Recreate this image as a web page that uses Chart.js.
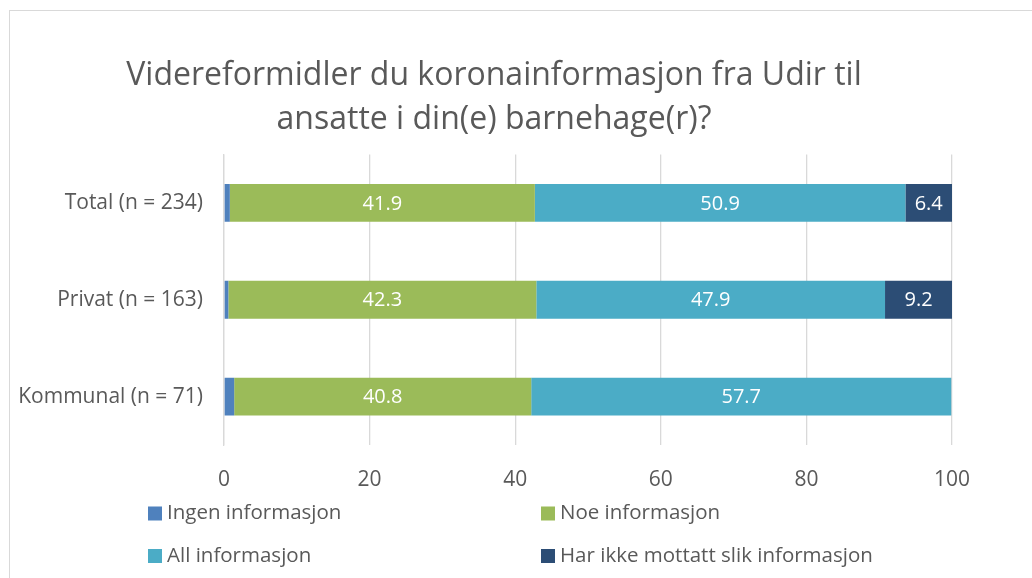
<!DOCTYPE html>
<html>
<head>
<meta charset="utf-8">
<script src="https://cdn.jsdelivr.net/npm/chart.js@4.4.1/dist/chart.umd.min.js"></script>
<style>
  html, body { margin: 0; padding: 0; background: #fff; overflow: hidden; }
  #frame { position: absolute; left: 9px; top: 10px; width: 1100px; height: 700px; border: 1px solid #d9d9d9; }
  #wrap { position: absolute; left: 0; top: 0; width: 1032px; height: 578px; }
</style>
</head>
<body>
<div id="frame"></div>
<div id="wrap"><canvas id="chart" width="1032" height="578"></canvas></div>
<script>
// data
const categories = ['Total (n = 234)', 'Privat (n = 163)', 'Kommunal (n = 71)'];
const seriesNames = ['Ingen informasjon', 'Noe informasjon', 'All informasjon', 'Har ikke mottatt slik informasjon'];
const ingenInfo = [0.8, 0.6, 1.4];
const noeInfo = [41.9, 42.3, 40.8];
const allInfo = [50.9, 47.9, 57.7];
const harIkke = [6.4, 9.2, 0];
const xTicks = [0, 20, 40, 60, 80, 100];
const seriesColors = ['#4f81bd', '#9bbb59', '#4bacc6', '#2c4d75'];
const titleLines = ['Videreformidler du koronainformasjon fra Udir til', 'ansatte i din(e) barnehage(r)?'];

const FONT = "'Open Sans', sans-serif";
const TEXT = '#595959';

// title centred a bit left of the canvas middle, as in the original
const offsetTitle = {
    id: 'offsetTitle',
    afterDraw(chart) {
        const ctx = chart.ctx;
        const cx = (chart.width - 44) / 2;
        ctx.save();
        ctx.font = '32px ' + FONT;
        ctx.fillStyle = TEXT;
        ctx.textAlign = 'center';
        ctx.textBaseline = 'middle';
        titleLines.forEach((line, i) => ctx.fillText(line, cx, 76 + i * 44));
        ctx.restore();
    }
};

// white value labels inside the segments (not for the first series)
const valueLabels = {
    id: 'valueLabels',
    afterDatasetsDraw(chart) {
        const ctx = chart.ctx;
        ctx.save();
        ctx.font = '20px ' + FONT;
        ctx.fillStyle = '#ffffff';
        ctx.textAlign = 'center';
        ctx.textBaseline = 'middle';
        chart.data.datasets.forEach((ds, i) => {
            if (i === 0) return;
            chart.getDatasetMeta(i).data.forEach((bar, j) => {
                const v = ds.data[j];
                if (!v) return;
                const p = bar.getCenterPoint();
                ctx.fillText(v.toFixed(1), p.x, p.y + 1);
            });
        });
        ctx.restore();
    }
};

// two-column legend like the original
const gridLegend = {
    id: 'gridLegend',
    afterDraw(chart) {
        const ctx = chart.ctx;
        const area = chart.chartArea;
        const cols = [area.left - 76, area.left + 317];
        const rows = [area.bottom + 68.5, area.bottom + 111];
        ctx.save();
        ctx.font = '20.5px ' + FONT;
        ctx.textBaseline = 'middle';
        ctx.textAlign = 'left';
        chart.data.datasets.forEach((ds, i) => {
            const x = cols[i % 2];
            const y = rows[Math.floor(i / 2)];
            ctx.fillStyle = ds.backgroundColor;
            ctx.fillRect(x, y - 7, 14, 14);
            ctx.fillStyle = TEXT;
            ctx.fillText(ds.label, x + 19, y);
        });
        ctx.restore();
    }
};

const allSeries = [ingenInfo, noeInfo, allInfo, harIkke];

new Chart(document.getElementById('chart'), {
    type: 'bar',
    data: {
        labels: categories,
        datasets: allSeries.map((vals, i) => ({
            label: seriesNames[i],
            data: vals,
            backgroundColor: seriesColors[i],
            borderWidth: 0,
            barPercentage: 0.39,
            categoryPercentage: 1
        }))
    },
    options: {
        indexAxis: 'y',
        responsive: false,
        animation: false,
        layout: { padding: { left: 0, right: 80, top: 154.5, bottom: 0 } },
        plugins: {
            legend: { display: false },
            tooltip: { enabled: false },
            title: { display: false }
        },
        scales: {
            x: {
                stacked: true,
                min: xTicks[0],
                max: xTicks[xTicks.length - 1],
                ticks: { stepSize: xTicks[1] - xTicks[0], color: TEXT, font: { family: FONT, size: 21 }, padding: 22 },
                grid: { color: '#d9d9d9', lineWidth: 1.3, drawTicks: false },
                border: { display: false },
                afterFit(scale) { scale.height = 133; }
            },
            y: {
                stacked: true,
                ticks: { color: TEXT, font: { family: FONT, size: 21 }, padding: 21 },
                grid: { display: false, drawTicks: false },
                border: { color: '#d9d9d9', width: 1.3 },
                afterFit(scale) { scale.width = 224; }
            }
        }
    },
    plugins: [offsetTitle, valueLabels, gridLegend]
});
</script>
</body>
</html>
